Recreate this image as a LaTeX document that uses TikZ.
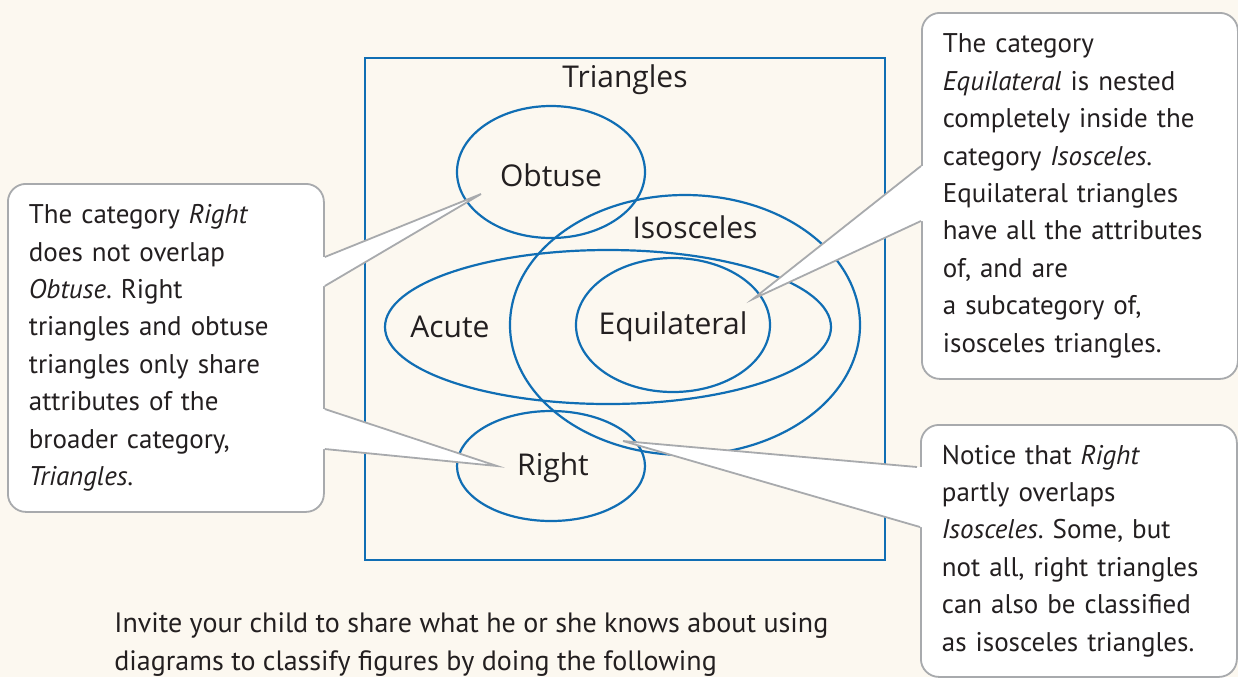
\documentclass[tikz,border=0pt]{standalone}
\usepackage{fontspec}
\setmainfont{PT Sans}
\newfontfamily\setfont{Open Sans}
\usetikzlibrary{calc}
\frenchspacing

\definecolor{paper}{RGB}{252,248,240}
\definecolor{setblue}{RGB}{16,110,180}
\definecolor{notegray}{RGB}{168,170,173}
\definecolor{ink}{RGB}{35,31,32}

\tikzset{
  setline/.style={draw=setblue, line width=1.1pt},
  setlabel/.style={font=\setfont\fontsize{15}{18}\selectfont, text=ink},
  notebox/.style={draw=notegray, fill=white, line width=0.9pt, rounded corners=9pt,
    anchor=north west, align=left, inner xsep=10.5pt, text width=137pt,
    font=\fontsize{13.5}{18.7}\selectfont, text=ink},
  pointer/.style={draw=notegray, line width=0.9pt, line join=miter},
}

\begin{document}
\begin{tikzpicture}[x=0.5pt, y=-0.5pt]

  % Page
  \fill[paper] (0,0) rectangle (1238,677);
  \useasboundingbox (0,0) rectangle (1238,677);

  % Sets
  \draw[setline, line width=1.3pt] (365,58) rectangle (885,560);
  \node (triangles) [setlabel] at (625,80) {Triangles};
  \draw[setline] (551,172) ellipse [x radius=94, y radius=66];
  \draw[setline] (685,325) ellipse [x radius=175, y radius=130];
  \draw[setline] (608,327) ellipse [x radius=223, y radius=77];
  \draw[setline] (673,325) ellipse [x radius=97, y radius=67];
  \draw[setline] (551,466) ellipse [x radius=94, y radius=55];
  \node (obtuse) [setlabel] at (551,175) {Obtuse};
  \node (isosceles) [setlabel] at (695,227) {Isosceles};
  \node (acute) [setlabel] at (450,327) {Acute};
  \node (equilateral) [setlabel] at (673,327) {Equilateral};
  \node (right) [setlabel] at (553,468) {Right};

  % Pointer tips
  \coordinate (obtuseTip) at (481,194);
  \coordinate (rightTip) at (497,466);
  \coordinate (equiTip) at (753,299);
  \coordinate (isoTip) at (623,441);

  % Notes
  \node (noteRight) [notebox, minimum height=164pt] at (7,183)
    {The category \emph{Right}\\ does not overlap\\ \emph{Obtuse}. Right\\ triangles and obtuse\\ triangles only share\\ attributes of the\\ broader category,\\ \emph{Triangles}.};
  \node (noteEqui) [notebox, minimum height=183pt] at (921,12)
    {The category\\ \emph{Equilateral} is nested\\ completely inside the\\ category \emph{Isosceles}.\\ Equilateral triangles\\ have all the attributes\\ of, and are\\ a subcategory of,\\ isosceles triangles.};
  \node (noteIso) [notebox, minimum height=126pt] at (920,424)
    {Notice that \emph{Right}\\ partly overlaps\\ \emph{Isosceles}. Some, but\\ not all, right triangles\\ can also be classified\\ as isosceles triangles.};

  % Pointers
  \coordinate (a1) at ($(noteRight.north east)+(0,74)$);
  \coordinate (a2) at ($(noteRight.north east)+(0,103)$);
  \coordinate (b1) at ($(noteRight.north east)+(0,226)$);
  \coordinate (b2) at ($(noteRight.north east)+(0,266)$);
  \coordinate (c1) at ($(noteEqui.north west)+(0,154)$);
  \coordinate (c2) at ($(noteEqui.north west)+(0,209)$);
  \coordinate (d1) at ($(noteIso.north west)+(-3,43)$);
  \coordinate (d2) at ($(noteIso.north west)+(0,103)$);

  \fill[white] (a1) -- (obtuseTip) -- (a2) -- ++(-4,0) -- ($(a1)+(-4,0)$) -- cycle;
  \fill[white] (b1) -- (rightTip) -- (b2) -- ++(-4,0) -- ($(b1)+(-4,0)$) -- cycle;
  \fill[white] (c1) -- (equiTip) -- (c2) -- ++(4,0) -- ($(c1)+(4,0)$) -- cycle;
  \fill[white] (d1) -- (isoTip) -- (d2) -- ++(5,0) -- ($(d1)+(5,0)$) -- cycle;
  \draw[pointer] (a1) -- (obtuseTip) -- (a2);
  \draw[pointer] (b1) -- (rightTip) -- (b2);
  \draw[pointer] (c1) -- (equiTip) -- (c2);
  \draw[pointer] (d1) -- (isoTip) -- (d2);

  % Bottom text
  \node (invite) [anchor=base west, align=left, inner sep=0pt, text=ink,
    font=\fontsize{14}{19}\selectfont] at (114,670)
    {Invite your child to share what he or she knows about using\\ diagrams to classify figures by doing the following};

\end{tikzpicture}
\end{document}
